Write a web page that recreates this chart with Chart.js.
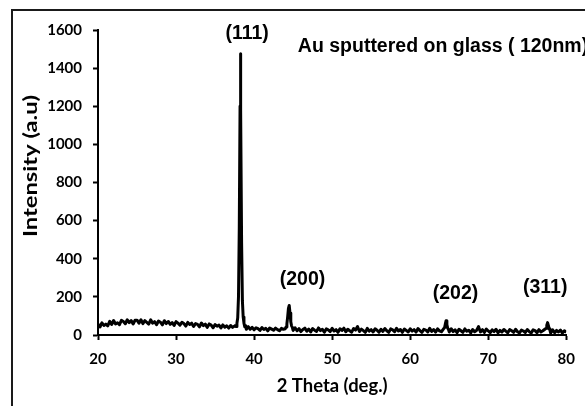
<!DOCTYPE html>
<html>
<head>
<meta charset="utf-8">
<script src="https://cdn.jsdelivr.net/npm/chart.js@4"></script>
<style>
  body { margin: 0; background: #fff; }
  #wrap { position: relative; width: 585px; height: 406px; overflow: hidden; }
  #frame { position: absolute; left: 11px; top: 9px; width: 700px; height: 500px;
           border-top: 2px solid #1a1a1a; border-left: 2px solid #1a1a1a; }
  canvas { position: absolute; left: 0; top: 0; }
</style>
</head>
<body>
<div id="wrap">
  <div id="frame"></div>
  <canvas id="xrd" width="585" height="406"></canvas>
</div>
<script>
'use strict';

// data

let twoTheta = [
  20.00, 20.25, 20.50, 20.75, 21.00, 21.25, 21.50, 21.75, 22.00, 22.25,
  22.50, 22.75, 23.00, 23.25, 23.50, 23.75, 24.00, 24.25, 24.50, 24.75,
  25.00, 25.25, 25.50, 25.75, 26.00, 26.25, 26.50, 26.75, 27.00, 27.25,
  27.50, 27.75, 28.00, 28.25, 28.50, 28.75, 29.00, 29.25, 29.50, 29.75,
  30.00, 30.25, 30.50, 30.75, 31.00, 31.25, 31.50, 31.75, 32.00, 32.25,
  32.50, 32.75, 33.00, 33.25, 33.50, 33.75, 34.00, 34.25, 34.50, 34.75,
  35.00, 35.25, 35.50, 35.75, 36.00, 36.25, 36.50, 36.75, 37.00, 37.25,
  37.50,
  37.60, 37.70, 37.80, 37.90, 38.00, 38.10, 38.20, 38.25, 38.30, 38.40,
  38.50, 38.60, 38.70, 38.80, 38.90, 39.00,
  39.25, 39.50, 39.75, 40.00, 40.25, 40.50, 40.75, 41.00, 41.25, 41.50,
  41.75, 42.00, 42.25, 42.50, 42.75, 43.00, 43.25, 43.50, 43.75, 44.00,
  44.10, 44.20, 44.30, 44.40, 44.50, 44.60, 44.70, 44.80, 44.90, 45.00,
  45.25, 45.50, 45.75, 46.00, 46.25, 46.50, 46.75, 47.00, 47.25, 47.50,
  47.75, 48.00, 48.25, 48.50, 48.75, 49.00, 49.25, 49.50, 49.75, 50.00,
  50.25, 50.50, 50.75, 51.00, 51.25, 51.50, 51.75, 52.00, 52.25, 52.50,
  52.75, 53.00, 53.25, 53.50, 53.75, 54.00, 54.25, 54.50, 54.75, 55.00,
  55.25, 55.50, 55.75, 56.00, 56.25, 56.50, 56.75, 57.00, 57.25, 57.50,
  57.75, 58.00, 58.25, 58.50, 58.75, 59.00, 59.25, 59.50, 59.75, 60.00,
  60.25, 60.50, 60.75, 61.00, 61.25, 61.50, 61.75, 62.00, 62.25, 62.50,
  62.75, 63.00, 63.25, 63.50, 63.75, 64.00, 64.25,
  64.40, 64.50, 64.60, 64.70, 64.80, 64.90, 65.00,
  65.25, 65.50, 65.75, 66.00, 66.25, 66.50, 66.75, 67.00, 67.25, 67.50,
  67.75, 68.00, 68.25, 68.50, 68.75, 69.00, 69.25, 69.50, 69.75, 70.00,
  70.25, 70.50, 70.75, 71.00, 71.25, 71.50, 71.75, 72.00, 72.25, 72.50,
  72.75, 73.00, 73.25, 73.50, 73.75, 74.00, 74.25, 74.50, 74.75, 75.00,
  75.25, 75.50, 75.75, 76.00, 76.25, 76.50, 76.75, 77.00, 77.25,
  77.40, 77.50, 77.60, 77.70, 77.80, 77.90, 78.00,
  78.25, 78.50, 78.75, 79.00, 79.25, 79.50, 79.75, 80.00
];

let intensity = [
  58, 42, 64, 50, 57, 48, 72, 55, 76, 58,
  64, 54, 77, 71, 59, 80, 65, 76, 58, 77,
  78, 62, 80, 60, 75, 66, 57, 80, 62, 70,
  54, 73, 67, 53, 75, 60, 71, 56, 65, 50,
  70, 62, 52, 67, 60, 47, 66, 55, 62, 45,
  60, 56, 43, 63, 49, 57, 40, 58, 52, 38,
  55, 46, 52, 37, 53, 41, 48, 36, 50, 40,
  47,
  50, 44, 62, 90, 200, 560, 1200, 1475, 1180, 480,
  180, 95, 62, 44, 50, 30,
  44, 30, 40, 27, 38, 33, 24, 39, 29, 35,
  22, 37, 31, 25, 36, 28, 22, 35, 30, 33,
  42, 58, 95, 140, 155, 115, 70, 48, 40, 24,
  38, 22, 33, 18, 29, 36, 20, 31, 16, 34,
  25, 19, 37, 23, 30, 15, 32, 27, 18, 35,
  21, 28, 14, 33, 24, 36, 17, 30, 22, 15,
  34, 26, 44, 18, 31, 23, 14, 35, 20, 28,
  16, 33, 25, 15, 30, 19, 34, 22, 14, 32,
  27, 17, 35, 21, 29, 14, 31, 24, 16, 33,
  20, 28, 15, 34, 23, 14, 30, 26, 16, 35,
  19, 29, 15, 32, 22, 17, 31,
  38, 58, 75, 55, 36, 30, 16,
  33, 18, 27, 12, 30, 22, 14, 32, 20, 25,
  11, 29, 17, 24, 44, 16, 28, 13, 31, 21,
  12, 27, 18, 30, 11, 24, 16, 29, 20, 12,
  28, 22, 14, 30, 17, 11, 26, 21, 13, 29,
  18, 10, 27, 23, 12, 28, 16, 22, 30,
  35, 52, 65, 50, 33, 26, 10,
  27, 12, 24, 16, 26, 10, 22, 15
];

let peakNames = ['(111)', '(200)', '(202)', '(311)'];
let sampleNote = 'Au sputtered on glass ( 120nm)';
let xTitle = '2 Theta (deg.)';
let yTitle = 'Intensity (a.u)';

let tickFont = { family: 'Lato', size: 15, weight: 'bold' };

// label anchors in data units
let peakAnchors = [[39.1, 1579], [46.2, 289], [65.8, 215], [77.3, 247]];
let noteAnchor = [45.6, 1514];

function fitText(ctx, text, x, y, width) {
  let w = ctx.measureText(text).width;
  ctx.save();
  ctx.translate(x, y);
  ctx.scale(width / w, 1);
  ctx.fillText(text, 0, 0);
  ctx.restore();
}

let textPlugin = {
  id: 'xrdText',
  afterDraw(chart) {
    let ctx = chart.ctx;
    let xs = chart.scales.x;
    let ys = chart.scales.y;
    let area = chart.chartArea;
    ctx.save();
    ctx.fillStyle = '#000';
    ctx.textBaseline = 'middle';

    ctx.font = 'bold 19.5px "Liberation Sans", Arial, sans-serif';
    ctx.textAlign = 'center';
    for (let i = 0; i < peakNames.length; i++) {
      ctx.fillText(peakNames[i], xs.getPixelForValue(peakAnchors[i][0]), ys.getPixelForValue(peakAnchors[i][1]));
    }
    ctx.textAlign = 'left';
    ctx.fillText(sampleNote, xs.getPixelForValue(noteAnchor[0]), ys.getPixelForValue(noteAnchor[1]));

    ctx.font = 'bold 18px Lato, sans-serif';
    ctx.textAlign = 'center';
    fitText(ctx, xTitle, (area.left + area.right) / 2, 386, 111);

    ctx.translate(31, 166);
    ctx.rotate(-Math.PI / 2);
    fitText(ctx, yTitle, 0, 0, 142);
    ctx.restore();
  }
};

let axisGrid = {
  drawOnChartArea: false,
  tickLength: 5,
  tickWidth: 2,
  tickColor: '#000'
};

new Chart(document.getElementById('xrd'), {
  type: 'line',
  data: {
    datasets: [{
      data: twoTheta.map((t, i) => ({ x: t, y: intensity[i] })),
      borderColor: '#000',
      borderWidth: 3,
      borderJoinStyle: 'round',
      pointRadius: 0,
      tension: 0
    }]
  },
  options: {
    responsive: false,
    animation: false,
    devicePixelRatio: 1,
    layout: { padding: { top: 30, right: 13, left: 0, bottom: 0 } },
    plugins: {
      legend: { display: false },
      tooltip: { enabled: false }
    },
    scales: {
      x: {
        type: 'linear',
        min: 20,
        max: 80,
        afterFit: s => { s.height = 71; },
        ticks: { stepSize: 10, color: '#000', font: tickFont, padding: 10, callback: v => String(v) },
        grid: axisGrid,
        border: { color: '#000', width: 2 }
      },
      y: {
        min: 0,
        max: 1600,
        afterFit: s => { s.width = 98; },
        ticks: { stepSize: 200, color: '#000', font: tickFont, padding: 11, callback: v => String(v) },
        grid: axisGrid,
        border: { color: '#000', width: 2 }
      }
    }
  },
  plugins: [textPlugin]
});
</script>
</body>
</html>
